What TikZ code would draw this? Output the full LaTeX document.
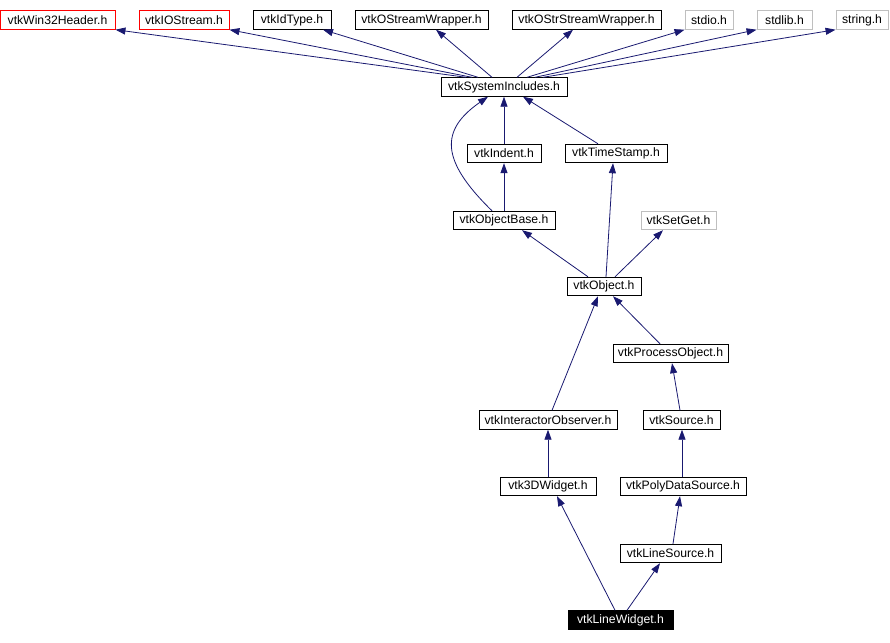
\documentclass[tikz,border=0pt]{standalone}
\usepackage{fontspec}
\setmainfont{Liberation Sans}
\usetikzlibrary{arrows.meta}
\definecolor{edgeblue}{HTML}{191970}
\definecolor{graybox}{HTML}{BFBFBF}
\definecolor{redbox}{HTML}{FF0000}
\tikzset{
  box/.style={draw=black, line width=0.9pt, inner sep=0pt, minimum height=18.5pt,
    font=\fontsize{12.2}{14}\selectfont, text=black, fill=white},
  redb/.style={box, draw=redbox},
  grayb/.style={box, draw=graybox},
  curb/.style={box, fill=black, draw=black, text=white},
  edge/.style={draw=edgeblue, line width=0.8pt, -{Triangle[length=10pt,width=7pt]}},
}
\begin{document}
\begin{tikzpicture}[x=1pt, y=-1pt]
\useasboundingbox (0,0) rectangle (890,642);
% top row
\node[redb, minimum width=115pt] (win32) at (57.5,20) {vtkWin32Header.h};
\node[redb, minimum width=90pt] (iostream) at (184,20) {vtkIOStream.h};
\node[box, minimum width=78pt] (idtype) at (292,20) {vtkIdType.h};
\node[box, minimum width=133pt] (ostreamw) at (421.5,20) {vtkOStreamWrapper.h};
\node[box, minimum width=149pt] (ostrstreamw) at (586.5,20) {vtkOStrStreamWrapper.h};
\node[grayb, minimum width=48pt] (stdio) at (709,20) {stdio.h};
\node[grayb, minimum width=55pt] (stdlib) at (784.5,20) {stdlib.h};
\node[grayb, minimum width=52pt] (string) at (862,20) {string.h};
% middle
\node[box, minimum width=126pt] (sys) at (504,87) {vtkSystemIncludes.h};
\node[box, minimum width=74pt] (indent) at (504,153.5) {vtkIndent.h};
\node[box, minimum width=102pt] (timestamp) at (616,153.5) {vtkTimeStamp.h};
\node[box, minimum width=102pt] (objbase) at (504,220.5) {vtkObjectBase.h};
\node[grayb, minimum width=75pt] (setget) at (678.5,220.5) {vtkSetGet.h};
\node[box, minimum width=74pt] (object) at (604,286.5) {vtkObject.h};
\node[box, minimum width=115pt] (procobj) at (670.5,353.5) {vtkProcessObject.h};
\node[box, minimum width=138pt] (interobs) at (548,420) {vtkInteractorObserver.h};
\node[box, minimum width=77pt] (source) at (681.5,420) {vtkSource.h};
\node[box, minimum width=96pt] (widget3d) at (548,486.5) {vtk3DWidget.h};
\node[box, minimum width=126pt] (polysrc) at (683,486.5) {vtkPolyDataSource.h};
\node[box, minimum width=101pt] (linesrc) at (670.5,553.5) {vtkLineSource.h};
\node[curb, minimum width=105pt] (linewidget) at (620.5,620) {vtkLineWidget.h};
% edges from vtkSystemIncludes.h
\draw[edge] ([xshift=-38pt]sys.north) -- (win32.south east);
\draw[edge] ([xshift=-32pt]sys.north) -- (iostream.south east);
\draw[edge] ([xshift=-26pt]sys.north) -- ([xshift=31pt]idtype.south);
\draw[edge] ([xshift=-12pt]sys.north) -- ([xshift=14.5pt]ostreamw.south);
\draw[edge] ([xshift=13pt]sys.north) -- ([xshift=-13.5pt]ostrstreamw.south);
\draw[edge] ([xshift=23pt]sys.north) -- (stdio.south west);
\draw[edge] ([xshift=31pt]sys.north) -- (stdlib.south west);
\draw[edge] ([xshift=39pt]sys.north) -- (string.south west);
% middle edges
\draw[edge] (indent.north) -- (sys.south);
\draw[edge] ([xshift=-18pt]timestamp.north) -- ([xshift=19pt]sys.south);
\draw[edge] ([xshift=-12pt]objbase.north) .. controls (440,160) and (440,130) .. ([xshift=-16pt]sys.south);
\draw[edge] (objbase.north) -- (indent.south);
\draw[edge] ([xshift=-16pt]object.north) -- ([xshift=18pt]objbase.south);
\draw[edge] ([xshift=2pt]object.north) -- ([xshift=-3pt]timestamp.south);
\draw[edge] ([xshift=11pt]object.north) -- ([xshift=-15.5pt]setget.south);
\draw[edge] ([xshift=-10.5pt]procobj.north) -- ([xshift=9pt]object.south);
\draw[edge] ([xshift=4pt]interobs.north) -- ([xshift=-6pt]object.south);
\draw[edge] ([xshift=-1.5pt]source.north) -- ([xshift=1.5pt]procobj.south);
\draw[edge] (widget3d.north) -- (interobs.south);
\draw[edge] ([xshift=-1pt]polysrc.north) -- ([xshift=0.5pt]source.south);
\draw[edge] ([xshift=2.5pt]linesrc.north) -- ([xshift=-3pt]polysrc.south);
\draw[edge] ([xshift=-5.5pt]linewidget.north) -- ([xshift=9pt]widget3d.south);
\draw[edge] ([xshift=6.5pt]linewidget.north) -- ([xshift=-10.5pt]linesrc.south);
\end{tikzpicture}
\end{document}
